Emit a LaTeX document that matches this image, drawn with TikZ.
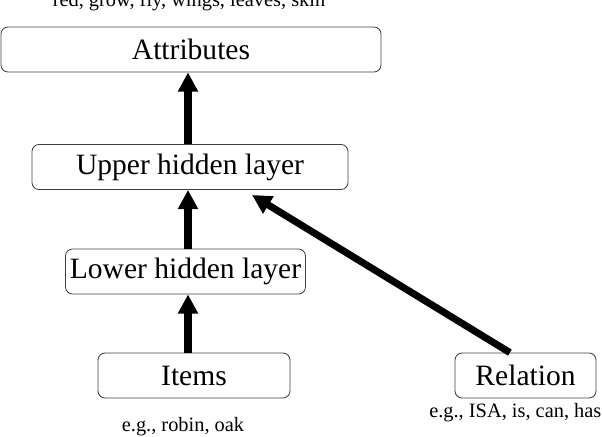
\documentclass[tikz,border=0pt]{standalone}
\usepackage{fontspec}
\setmainfont{Liberation Serif}
\usetikzlibrary{arrows.meta}
\tikzset{
  layerbox/.style={draw=black!75, line width=0.6pt, rounded corners=5pt, minimum height=1.125cm, inner sep=0pt, align=center, font=\fontsize{21}{25}\selectfont},
  uparrow/.style={-{Triangle[length=4.8mm, width=4.8mm]}, line width=5pt},
  egtext/.style={font=\fontsize{14.5}{17}\selectfont, inner sep=0pt}
}

\begin{document}
\begin{tikzpicture}
  \useasboundingbox (0,0) rectangle (15.05,-10.9);
  \clip (0,0) rectangle (15.05,-10.9);
  \node[layerbox, minimum width=9.5cm] (attr) at (4.775,-1.2375) {Attributes};
  \node[layerbox, minimum width=7.9cm] (upper) at (4.75,-4.175) {Upper hidden layer};
  \node[layerbox, minimum width=6.0cm] (lower) at (4.6375,-6.7875) {Lower hidden layer};
  \node[layerbox, minimum width=4.8cm] (items) at (4.85,-9.3875) {Items};
  \node[layerbox, minimum width=3.525cm] (rel) at (13.1375,-9.3875) {Relation};
  \node[egtext, anchor=base] (attrtext) at (4.725,-0.15) {red, grow, fly, wings, leaves, skin};
  \node[egtext, anchor=base] (itemtext) at (4.575,-10.775) {e.g., robin, oak};
  \node[egtext, anchor=base west] (reltext) at (10.725,-10.425) {e.g., ISA, is, can, has};
  \coordinate (spine) at (4.7,0);
  \coordinate (reltip) at (6.3,-4.875);
  \draw[uparrow] (items.north -| spine) -- (lower.south -| spine);
  \draw[uparrow] (lower.north -| spine) -- (upper.south -| spine);
  \draw[uparrow] (upper.north -| spine) -- (attr.south -| spine);
  \draw[uparrow] ([xshift=-0.39cm]rel.north) -- (reltip);
\end{tikzpicture}
\end{document}
